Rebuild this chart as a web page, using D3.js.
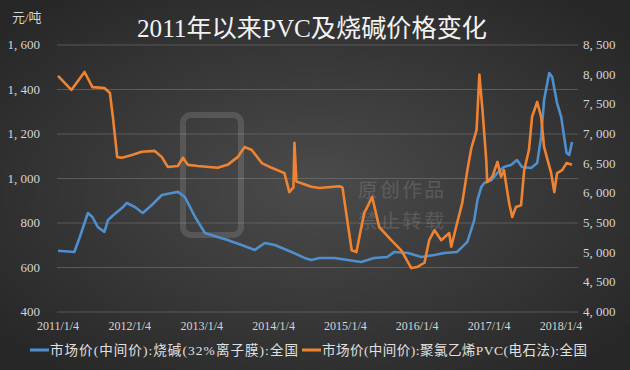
<!DOCTYPE html>
<html>
<head>
<meta charset="utf-8">
<script src="https://cdn.jsdelivr.net/npm/d3@7"></script>
<style>
  body { margin: 0; background: #2a2a2a; }
  svg { display: block; }
  .tick_lbl { font-family: "Liberation Serif", "Noto Sans CJK SC", serif; font-size: 13px; fill: #d4d4d4; }
  .x_lbl { font-family: "Liberation Serif", "Noto Sans CJK SC", serif; font-size: 12px; fill: #d4d4d4; }
  .legend_txt { font-family: "Liberation Serif", "Noto Sans CJK SC", serif; font-size: 13.5px; fill: #e0e0e0; }
</style>
</head>
<body>
<div id="chart"></div>
<script>
var W = 630, H = 370;

var yearTicks = ["2011/1/4", "2012/1/4", "2013/1/4", "2014/1/4", "2015/1/4", "2016/1/4", "2017/1/4", "2018/1/4"];
var leftTicks = [400, 600, 800, 1000, 1200, 1400, 1600];
var rightTicks = [4000, 4500, 5000, 5500, 6000, 6500, 7000, 7500, 8000, 8500];

// 烧碱 (左轴, 元/吨)
var causticDates = ["2011-01-04","2011-03-28","2011-04-25","2011-06-05","2011-06-28","2011-07-25","2011-08-28","2011-09-15","2011-10-10","2011-12-01","2011-12-20","2012-01-30","2012-03-10","2012-04-25","2012-06-15","2012-08-05","2012-09-05","2012-10-10","2012-12-01","2013-01-20","2013-03-25","2013-05-15","2013-07-25","2013-10-01","2013-11-20","2014-01-10","2014-04-05","2014-06-10","2014-07-15","2014-08-25","2014-11-10","2015-01-15","2015-03-26","2015-05-30","2015-08-05","2015-09-10","2015-11-18","2016-01-25","2016-04-01","2016-05-20","2016-07-25","2016-09-15","2016-10-20","2016-11-05","2016-11-25","2016-12-10","2017-01-15","2017-02-15","2017-03-20","2017-04-25","2017-05-25","2017-06-20","2017-08-05","2017-09-05","2017-09-25","2017-10-10","2017-11-05","2017-11-20","2017-12-15","2018-01-05","2018-02-01","2018-02-15","2018-03-01"];
var causticValues = [675,670,737,845,827,782,760,813,834,872,890,872,845,881,926,935,940,917,827,755,737,724,701,679,710,701,670,643,634,643,643,634,625,643,647,670,665,647,656,665,670,715,813,903,962,980,993,1025,1052,1061,1083,1052,1047,1070,1187,1353,1474,1456,1339,1277,1115,1106,1164];

// PVC (右轴, 元/吨)
var pvcDates = ["2011-01-04","2011-03-13","2011-05-19","2011-06-28","2011-08-28","2011-09-25","2011-10-10","2011-11-01","2011-11-25","2012-01-15","2012-03-05","2012-05-10","2012-06-15","2012-07-15","2012-09-04","2012-09-30","2012-10-25","2012-12-15","2013-03-25","2013-05-15","2013-07-05","2013-08-10","2013-09-15","2013-11-05","2013-12-25","2014-02-28","2014-03-25","2014-04-15","2014-04-20","2014-04-30","2014-07-15","2014-08-25","2014-12-05","2014-12-20","2015-02-05","2015-03-01","2015-03-26","2015-04-10","2015-04-25","2015-05-20","2015-06-25","2015-08-25","2015-10-15","2015-12-05","2016-01-05","2016-02-10","2016-03-05","2016-04-01","2016-05-05","2016-06-15","2016-06-25","2016-07-25","2016-08-20","2016-09-15","2016-10-05","2016-11-01","2016-11-15","2016-12-01","2016-12-20","2016-12-25","2017-01-20","2017-02-15","2017-03-05","2017-03-20","2017-04-15","2017-05-01","2017-05-20","2017-06-15","2017-07-01","2017-07-25","2017-08-10","2017-09-05","2017-09-25","2017-10-10","2017-11-15","2017-12-01","2017-12-15","2018-01-10","2018-02-01","2018-03-01"];
var pvcValues = [7980,7742,8045,7790,7775,7690,7290,6610,6600,6645,6700,6715,6610,6445,6460,6600,6480,6460,6430,6480,6610,6780,6730,6510,6430,6340,6020,6100,6850,6200,6110,6090,6120,6100,5040,5010,5430,5670,5770,5940,5430,5210,5040,4740,4760,4830,5210,5380,5210,5330,5100,5500,5840,6390,6760,7070,8000,7400,6560,6190,6280,6530,6280,6390,5840,5600,5770,5800,6390,6730,7290,7540,7290,6780,6340,6020,6340,6390,6510,6480];

var legendNames = ["市场价(中间价):烧碱(32%离子膜):全国", "市场价(中间价):聚氯乙烯PVC(电石法):全国"];
var watermarkLines = ["原创作品", "禁止转载"];
var colors = ["#4f8fce", "#ee8433"];

var parseDate = d3.timeParse("%Y-%m-%d");
var parseTick = d3.timeParse("%Y/%m/%d");

var causticData = causticDates.map(function (d, i) { return { date: parseDate(d), value: causticValues[i] }; });
var pvcData = pvcDates.map(function (d, i) { return { date: parseDate(d), value: pvcValues[i] }; });

var svg = d3.select("#chart").append("svg")
    .attr("width", W)
    .attr("height", H);

var defs = svg.append("defs");
var bg = defs.append("radialGradient")
    .attr("id", "bg")
    .attr("cx", "50%").attr("cy", "50%").attr("r", "65%");
bg.append("stop").attr("offset", "0%").attr("stop-color", "#4b4b4b");
bg.append("stop").attr("offset", "100%").attr("stop-color", "#272727");

svg.append("rect")
    .attr("width", W)
    .attr("height", H)
    .attr("fill", "url(#bg)");

var xScale = d3.scaleTime()
    .domain([parseTick("2011/1/4"), parseTick("2018/1/4")])
    .range([58, 561]);
var yLeft = d3.scaleLinear().domain([400, 1600]).range([312, 45]);
var yRight = d3.scaleLinear().domain([4000, 8500]).range([312, 45]);

// gridlines
svg.append("g").selectAll("line")
    .data(leftTicks)
    .enter().append("line")
    .attr("x1", 57)
    .attr("x2", 578)
    .attr("y1", function (d) { return yLeft(d); })
    .attr("y2", function (d) { return yLeft(d); })
    .attr("stroke", "#7a7a7a")
    .attr("stroke-width", 0.8)
    .attr("opacity", 0.7);

// watermark
var wm = svg.append("g").attr("opacity", 0.13);
wm.append("rect")
    .attr("x", 183).attr("y", 115).attr("width", 58).attr("height", 120)
    .attr("rx", 8)
    .attr("fill", "none").attr("stroke", "#ffffff").attr("stroke-width", 6);
wm.selectAll("text")
    .data(watermarkLines)
    .enter().append("text")
    .attr("x", 358)
    .attr("y", function (d, i) { return 197 + i * 31; })
    .attr("font-family", "Noto Sans CJK SC")
    .attr("font-size", 19.5)
    .attr("textLength", 86)
    .attr("fill", "#ffffff")
    .text(function (d) { return d; });

// axes labels
svg.append("g").selectAll("text")
    .data(leftTicks)
    .enter().append("text")
    .attr("class", "tick_lbl")
    .attr("x", 40)
    .attr("y", function (d) { return yLeft(d) + 4; })
    .attr("text-anchor", "end")
    .text(function (d) { return d3.format(",")(d).replace(",", ", "); });

svg.append("g").selectAll("text")
    .data(rightTicks)
    .enter().append("text")
    .attr("class", "tick_lbl")
    .attr("x", 583)
    .attr("y", function (d) { return yRight(d) + 4; })
    .attr("text-anchor", "start")
    .text(function (d) { return d3.format(",")(d).replace(",", ", "); });

svg.append("g").selectAll("text")
    .data(yearTicks)
    .enter().append("text")
    .attr("class", "x_lbl")
    .attr("x", function (d) { return xScale(parseTick(d)); })
    .attr("y", 330)
    .attr("text-anchor", "middle")
    .text(function (d) { return d; });

svg.append("text")
    .attr("class", "tick_lbl")
    .attr("x", 12)
    .attr("y", 22)
    .attr("font-size", 12)
    .text("元/吨");

// title
svg.append("text")
    .attr("x", 312)
    .attr("y", 37)
    .attr("text-anchor", "middle")
    .attr("font-family", "Liberation Serif, Noto Sans CJK SC, serif")
    .attr("font-size", 25)
    .attr("textLength", 350)
    .attr("lengthAdjust", "spacingAndGlyphs")
    .attr("fill", "#f2f2f2")
    .text("2011年以来PVC及烧碱价格变化");

// lines
var lineLeft = d3.line()
    .x(function (d) { return xScale(d.date); })
    .y(function (d) { return yLeft(d.value); });
var lineRight = d3.line()
    .x(function (d) { return xScale(d.date); })
    .y(function (d) { return yRight(d.value); });

svg.append("path")
    .datum(causticData)
    .attr("d", lineLeft)
    .attr("fill", "none")
    .attr("stroke", colors[0])
    .attr("stroke-width", 2.6)
    .attr("stroke-linejoin", "round");

svg.append("path")
    .datum(pvcData)
    .attr("d", lineRight)
    .attr("fill", "none")
    .attr("stroke", colors[1])
    .attr("stroke-width", 2.6)
    .attr("stroke-linejoin", "round");

// legend
var legendX = [30, 302];
var legendLen = [248, 265];
var legend = svg.selectAll(".legend")
    .data(legendNames)
    .enter().append("g")
    .attr("class", "legend")
    .attr("transform", function (d, i) { return "translate(" + legendX[i] + ",350)"; });
legend.append("line")
    .attr("x1", 0).attr("x2", 19)
    .attr("y1", 0).attr("y2", 0)
    .attr("stroke", function (d, i) { return colors[i]; })
    .attr("stroke-width", 3);
legend.append("text")
    .attr("class", "legend_txt")
    .attr("x", 20)
    .attr("y", 5)
    .attr("textLength", function (d, i) { return legendLen[i]; })
    .attr("lengthAdjust", "spacing")
    .text(function (d) { return d; });
</script>
</body>
</html>
